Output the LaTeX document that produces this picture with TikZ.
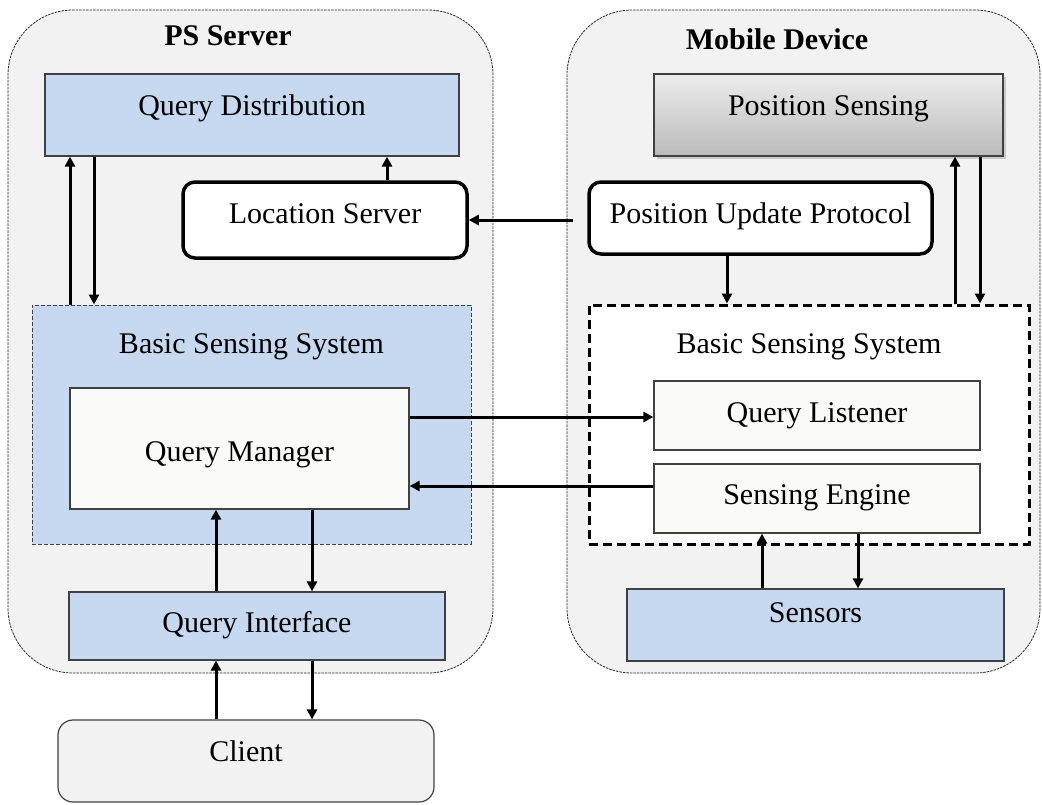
\documentclass[tikz,border=0pt]{standalone}
\usepackage{fontspec}
\setmainfont{Liberation Serif}
\usetikzlibrary{arrows.meta,shadows}
\definecolor{bluefill}{HTML}{C6D9F0}
\definecolor{contfill}{HTML}{F2F2F2}
\definecolor{boxwhite}{HTML}{FAFAF8}
\definecolor{edgegray}{HTML}{404040}
\tikzset{
  container/.style={draw=black!85, fill=contfill, line width=0.8pt, dash pattern=on 2.5pt off 1pt, rounded corners=65pt, inner sep=0pt},
  bluebox/.style={draw=edgegray, fill=bluefill, line width=1.2pt, inner sep=0pt},
  whitebox/.style={draw=edgegray, fill=boxwhite, line width=1.2pt, inner sep=0pt},
  roundbox/.style={draw=black, fill=white, line width=3.5pt, rounded corners=12pt, inner sep=0pt},
  txt/.style={font=\fontsize{30}{36}\selectfont, inner sep=0pt, anchor=base},
  ttl/.style={font=\fontsize{30}{36}\selectfont\bfseries, inner sep=0pt, anchor=base},
  arr/.style={line width=3pt, -{Triangle[length=10pt,width=10pt]}},
}
\begin{document}
\begin{tikzpicture}[x=1pt,y=-1pt]
\useasboundingbox (0,0) rectangle (1042,804);
% containers
\node[container, minimum width=485pt, minimum height=663pt] (psc) at (250.5,341.5) {};
\node[container, minimum width=473pt, minimum height=663pt] (mdc) at (803.5,341.5) {};
\node[ttl] (pst) at (228,45) {PS Server};
\node[ttl] (mdt) at (777,49) {Mobile Device};
% left side
\node[bluebox, minimum width=414pt, minimum height=82pt] (qd) at (252,115) {};
\node[txt] (qdt) at (252,115) {Query Distribution};
\node[roundbox, minimum width=284pt, minimum height=76pt] (ls) at (325,220) {};
\node[txt] (lst) at (325,223) {Location Server};
\node[bluebox, dash pattern=on 4pt off 2pt, line width=1pt, minimum width=439pt, minimum height=239pt] (bssl) at (251.5,424.5) {};
\node[txt] (bsslt) at (251.5,353) {Basic Sensing System};
\node[whitebox, minimum width=339pt, minimum height=121pt] (qm) at (239.5,448.5) {};
\node[txt] (qmt) at (239.5,461) {Query Manager};
\node[bluebox, minimum width=376pt, minimum height=68pt] (qi) at (257,626) {};
\node[txt] (qit) at (257,632) {Query Interface};
\node[draw=edgegray, fill=contfill, line width=1.2pt, rounded corners=15pt, inner sep=0pt, minimum width=376pt, minimum height=82pt] (cl) at (246,761) {};
\node[txt] (clt) at (246,761) {Client};
% right side
\node[draw=edgegray, line width=1.2pt, top color=black!7, bottom color=black!27, drop shadow={shadow xshift=2.5pt, shadow yshift=-2.5pt, opacity=0.35}, inner sep=0pt, minimum width=349pt, minimum height=82pt] (ps) at (828.5,115) {};
\node[txt] (pst2) at (828.5,115) {Position Sensing};
\node[roundbox, minimum width=343pt, minimum height=72pt] (pup) at (760.5,218) {};
\node[txt] (pupt) at (760.5,223) {Position Update Protocol};
\node[draw=black, fill=white, line width=3pt, dash pattern=on 9pt off 5pt, inner sep=0pt, minimum width=440pt, minimum height=239pt] (bssr) at (809,424.5) {};
\node[txt] (bssrt) at (809,353) {Basic Sensing System};
\node[whitebox, minimum width=326pt, minimum height=69pt] (ql) at (817,415.5) {};
\node[txt] (qlt) at (817,422) {Query Listener};
\node[whitebox, minimum width=326pt, minimum height=69pt] (se) at (817,498.5) {};
\node[txt] (set) at (817,504) {Sensing Engine};
\node[bluebox, minimum width=377pt, minimum height=72pt] (sn) at (815.5,625) {};
\node[txt] (snt) at (815.5,622) {Sensors};
% connectors
\draw[arr] (70,0 |- bssl.north) -- (70,0 |- qd.south);
\draw[arr] (94,0 |- qd.south) -- (94,0 |- bssl.north);
\draw[arr] (387,0 |- ls.north) -- (387,0 |- qd.south);
\draw[arr, shorten <=14pt] (pup.west |- ls.east) -- (ls.east);
\draw[arr] (727,0 |- pup.south) -- (727,0 |- bssr.north);
\draw[arr] (955,0 |- bssr.north) -- (955,0 |- ps.south);
\draw[arr] (980,0 |- ps.south) -- (980,0 |- bssr.north);
\draw[arr] (qm.east |- 0,417) -- (ql.west |- 0,417);
\draw[arr] (se.west |- 0,486) -- (qm.east |- 0,486);
\draw[arr] (216,0 |- qi.north) -- (216,0 |- qm.south);
\draw[arr] (312,0 |- qm.south) -- (312,0 |- qi.north);
\draw[arr] (216,0 |- cl.north) -- (216,0 |- qi.south);
\draw[arr] (312,0 |- qi.south) -- (312,0 |- cl.north);
\draw[arr] (762,0 |- sn.north) -- (762,0 |- se.south);
\draw[arr] (858,0 |- se.south) -- (858,0 |- sn.north);
\end{tikzpicture}
\end{document}
